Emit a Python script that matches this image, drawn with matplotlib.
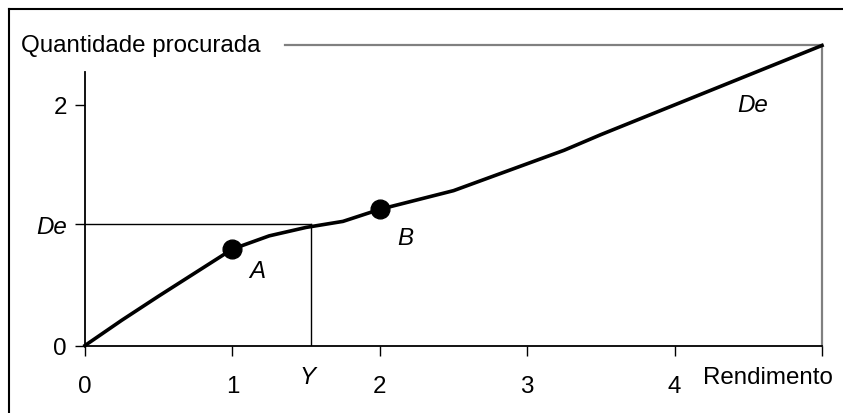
import matplotlib.pyplot as plt
from matplotlib.lines import Line2D

plt.rcParams['font.family'] = ['Liberation Sans', 'DejaVu Sans']

# demand curve
rendimento = [0, 0.25, 0.5, 1.0, 1.25, 1.5, 1.75, 2.0, 2.5, 3.25, 3.5, 5.0]
quantidade = [0, 0.21, 0.41, 0.80, 0.91, 0.98, 1.03, 1.13, 1.285, 1.62, 1.75, 2.49]

pontos_x = [1.0, 2.0]
pontos_y = [0.80, 1.13]

De = 1.01
Y = 1.535
x_ticks = [0, 1, 2, 3, 4, 5]
x_labels = ['0', '1', '2', '3', '4', '']

fs = 17.4

fig = plt.figure(figsize=(8.43, 4.14), dpi=100)
ax = fig.add_axes([85 / 843, (414 - 346.5) / 414, 737 / 843, 2.27 * 120.5 / 414])

ax.plot(rendimento, quantidade, color='black', lw=2.6, solid_joinstyle='round', clip_on=False, zorder=3)
ax.plot(pontos_x, pontos_y, 'o', color='black', markersize=13.5, zorder=4)
ax.text(1.17, 0.62, 'A', fontsize=fs, style='italic', ha='center', va='center')
ax.text(2.17, 0.90, 'B', fontsize=fs, style='italic', ha='center', va='center')
ax.text(4.53, 2.00, 'De', fontsize=fs, style='italic', ha='center', va='center')

# De / Y guide lines
ax.plot([0, Y], [De, De], color='black', lw=1)
ax.plot([Y, Y], [0, De], color='black', lw=1)

# gray frame to the end of the curve
ax.plot([1.354, 5], [2.49, 2.49], color='#808080', lw=1.6, clip_on=False)
ax.plot([5, 5], [0, 2.49], color='#808080', lw=1.6, clip_on=False)

ax.set_xlim(0, 5)
ax.set_ylim(0, 2.27)
ax.set_xticks(x_ticks)
ax.set_xticklabels(x_labels)
ax.set_yticks([0, De, 2])
ax.set_yticklabels(['0', 'De', '2'])
ax.get_yticklabels()[1].set_style('italic')
ax.tick_params(axis='x', direction='out', length=7, width=1, pad=14, labelsize=fs)
ax.tick_params(axis='y', direction='out', length=7, width=1, pad=6, labelsize=fs)
for s in ['top', 'right']:
    ax.spines[s].set_visible(False)
for s in ['left', 'bottom']:
    ax.spines[s].set_linewidth(1.3)

fig.text(308 / 843, 1 - 378 / 414, 'Y', fontsize=fs, style='italic', ha='center', va='center')
fig.text(703 / 843, 1 - 378 / 414, 'Rendimento', fontsize=fs, ha='left', va='center')
fig.text(21 / 843, 1 - 46 / 414, 'Quantidade procurada', fontsize=fs, ha='left', va='center')

# outer border (only left and top visible in the picture)
fig.add_artist(Line2D([9 / 843, 9 / 843], [0, 1 - 10 / 414], color='black', lw=1.5))
fig.add_artist(Line2D([9 / 843, 1], [1 - 10 / 414, 1 - 10 / 414], color='black', lw=1.5))

fig.savefig('out.png', dpi=100)
